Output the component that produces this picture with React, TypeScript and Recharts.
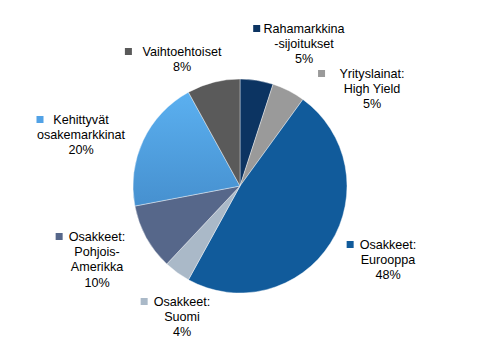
import React from 'react'
import { PieChart, Pie, Cell } from 'recharts'

// ========================================
// DATA
// ========================================

const CATEGORIES = [
  ['Rahamarkkina', '-sijoitukset'],
  ['Yrityslainat:', 'High Yield'],
  ['Osakkeet:', 'Eurooppa'],
  ['Osakkeet:', 'Suomi'],
  ['Osakkeet:', 'Pohjois-', 'Amerikka'],
  ['Kehittyvät', 'osakemarkkinat'],
  ['Vaihtoehtoiset'],
]

const SHARES = [5, 5, 48, 4, 10, 20, 8]

const COLORS = [
  '#0C3462', // rahamarkkina
  '#9A9A9A', // high yield
  '#115B9B', // eurooppa
  '#AAB9C8', // suomi
  '#56678A', // pohjois-amerikka
  'url(#kehGrad)', // kehittyvät
  '#5A5A5A', // vaihtoehtoiset
]

const MARKER_COLORS = ['#0C3462', '#9A9A9A', '#115B9B', '#AAB9C8', '#56678A', '#52A2E6', '#5A5A5A']

// label block centre (x) and first line (y), relative to pie centre
const LABEL_LAYOUT = [
  { dx: 64, dy: -157 },
  { dx: 132, dy: -112 },
  { dx: 148, dy: 59 },
  { dx: -58, dy: 116 },
  { dx: -143, dy: 51 },
  { dx: -159, dy: -66 },
  { dx: -58, dy: -134 },
]

const data = CATEGORIES.map((lines, i) => ({
  name: lines.join(' '),
  lines,
  value: SHARES[i],
}))

const CX = 240
const CY = 186
const FONT = 12.6
const LINE_H = 15.2

const renderLabel = (props: any) => {
  const { index, cx, cy, payload } = props
  const pos = LABEL_LAYOUT[index]
  const x = cx + pos.dx
  const y = cy + pos.dy
  const lines: string[] = [...payload.lines, `${payload.value}%`]
  // approx width of first line to put the marker in front of it
  const firstW = lines[0].length * FONT * 0.5
  return (
    <g key={`lbl-${index}`}>
      <rect
        x={x - firstW / 2 - 13}
        y={y - 4}
        width={7}
        height={7}
        fill={MARKER_COLORS[index]}
      />
      {lines.map((t, k) => (
        <text
          key={k}
          x={x}
          y={y + k * LINE_H}
          textAnchor="middle"
          dominantBaseline="central"
          fontFamily="'Liberation Sans', Arial, sans-serif"
          fontSize={FONT}
          fill="#000"
        >
          {t}
        </text>
      ))}
    </g>
  )
}

export default function App() {
  return (
    <div style={{ position: 'fixed', left: 0, top: 0, width: 486, height: 359, background: '#fff' }}>
      <PieChart width={486} height={359} margin={{ top: 0, right: 0, bottom: 0, left: 0 }}>
        <defs>
          <linearGradient id="kehGrad" x1="0" y1="0" x2="0" y2="1">
            <stop offset="0%" stopColor="#5BB0F0" />
            <stop offset="100%" stopColor="#4690CF" />
          </linearGradient>
        </defs>
        <Pie
          data={data}
          dataKey="value"
          nameKey="name"
          cx={CX}
          cy={CY}
          outerRadius={107}
          startAngle={90}
          endAngle={-270}
          stroke="#ffffff"
          strokeWidth={0.4}
          labelLine={false}
          label={renderLabel}
          isAnimationActive={false}
        >
          {data.map((entry, index) => (
            <Cell key={`cell-${index}`} fill={COLORS[index]} />
          ))}
        </Pie>
      </PieChart>
    </div>
  )
}
